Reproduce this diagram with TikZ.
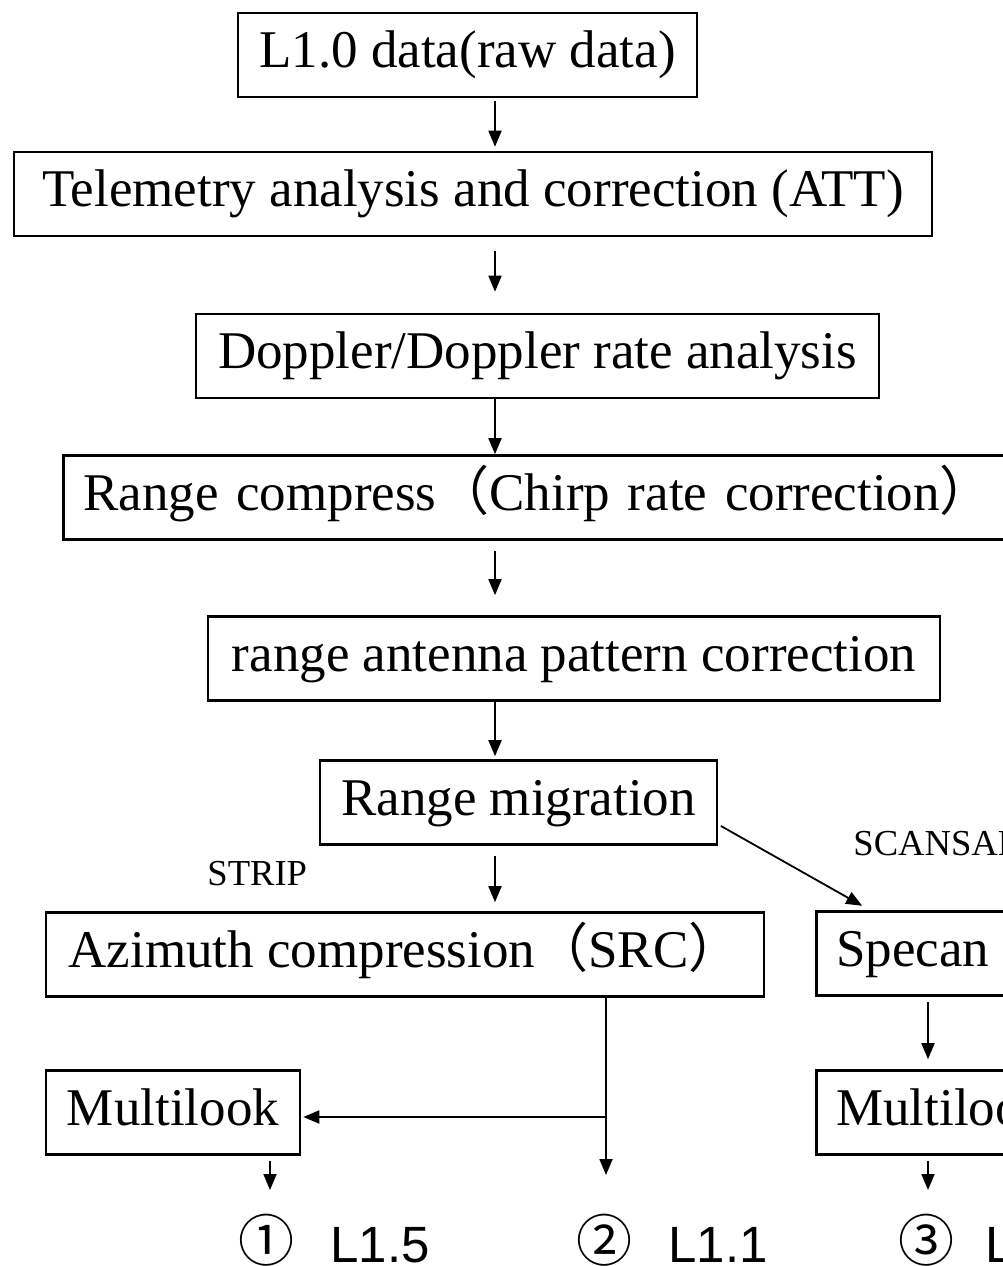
\documentclass[tikz,border=0pt]{standalone}
\usepackage{fontspec}
\setmainfont{Liberation Serif}
\newfontfamily\cjk{Noto Sans CJK SC}
\newfontfamily\hel{Liberation Sans}
\usetikzlibrary{arrows.meta}
\begin{document}
\begin{tikzpicture}[x=0.5pt,y=-0.5pt,
 box/.style={draw, line width=1.3pt, minimum height=42pt, inner xsep=10pt, inner ysep=0pt,
   font=\fontsize{26.5}{30}\selectfont, text height=18.5pt, text depth=5.8pt},
 arr/.style={line width=0.9pt, -{Triangle[length=8pt,width=6.5pt]}},
 conn/.style={line width=0.9pt},
 mode/.style={font=\fontsize{18.3}{22}\selectfont, inner sep=0pt, anchor=base west},
 circ/.style={font=\cjk\fontsize{28}{30}\selectfont, inner sep=0pt},
 lvl/.style={font=\hel\fontsize{25.5}{30}\selectfont, inner sep=0pt, anchor=base west}]
\useasboundingbox (0,0) rectangle (1003,1266);
\clip (0,0) rectangle (1003,1266);

\node[box, minimum width=229.5pt] (b1) at (467.5,55) {L1.0 data(raw data)};
\node[box, minimum width=459pt] (b2) at (473,194) {Telemetry analysis and correction (ATT)};
\node[box, minimum width=341.5pt] (b3) at (537.5,356) {Doppler/Doppler rate analysis};
\node[box, anchor=west, text width=470pt, align=left] (b4) at (62,497.5) {Range compress{\cjk （}Chirp rate correction{\cjk ）}};
\node[box, minimum width=366pt] (b5) at (574,658.5) {range antenna pattern correction};
\node[box, minimum width=198.5pt] (b6) at (518.5,802.5) {Range migration};
\node[box, minimum width=359pt] (b7) at (405,954.5) {Azimuth compression{\cjk （}SRC{\cjk ）}};
\node[box, anchor=west, text width=200pt, align=left] (b8) at (815,953.5) {Specan};
\node[box, minimum width=127pt] (b9) at (173,1112.5) {Multilook};
\node[box, anchor=west, text width=200pt, align=left] (b10) at (815,1112.5) {Multilook};

\node[mode] (strip) at (207,885) {STRIP};
\node[mode] (scansar) at (853,855) {SCANSAR};

\node[circ] (c1) at (266,1240) {①};
\node[lvl] (l1) at (330,1262) {L1.5};
\node[circ] (c2) at (604,1240) {②};
\node[lvl] (l2) at (668,1262) {L1.1};
\node[circ] (c3) at (926,1240) {③};
\node[lvl] (l3) at (985,1262) {L};

\coordinate (sp) at (495,0);
\draw[arr, shorten <=1.5pt, shorten >=2pt] (b1.south -| sp) -- (b2.north -| sp);
\draw[arr, shorten <=7pt, shorten >=10.5pt] (b2.south -| sp) -- (b3.north -| sp);
\draw[arr] (b3.south -| sp) -- (b4.north -| sp);
\draw[arr, shorten <=5pt, shorten >=10pt] (b4.south -| sp) -- (b5.north -| sp);
\draw[arr, shorten >=1.5pt] (b5.south -| sp) -- (b6.north -| sp);
\draw[arr, shorten <=5pt, shorten >=4.5pt] (b6.south -| sp) -- (b7.north -| sp);
\draw[arr, shorten <=1.5pt, shorten >=4.5pt] ([yshift=-11pt]b6.east) -- ([xshift=27.5pt]b8.north west);

\coordinate (sp2) at (606,1117);
\coordinate (e1) at (270,1190);
\coordinate (e2) at (606,1175);
\coordinate (e3) at (928,1190);
\coordinate (sp3) at (928,0);
\draw[conn] (b7.south -| sp2) -- (sp2);
\draw[arr, shorten >=1pt] (sp2) -- (b9.east |- sp2);
\draw[arr] (sp2) -- (e2);
\draw[arr, shorten <=2.5pt] (b9.south -| e1) -- (e1);
\draw[arr, shorten <=2.5pt, shorten >=5pt] (b8.south -| sp3) -- (b10.north -| sp3);
\draw[arr, shorten <=2.5pt] (b10.south -| sp3) -- (e3);
\end{tikzpicture}
\end{document}
